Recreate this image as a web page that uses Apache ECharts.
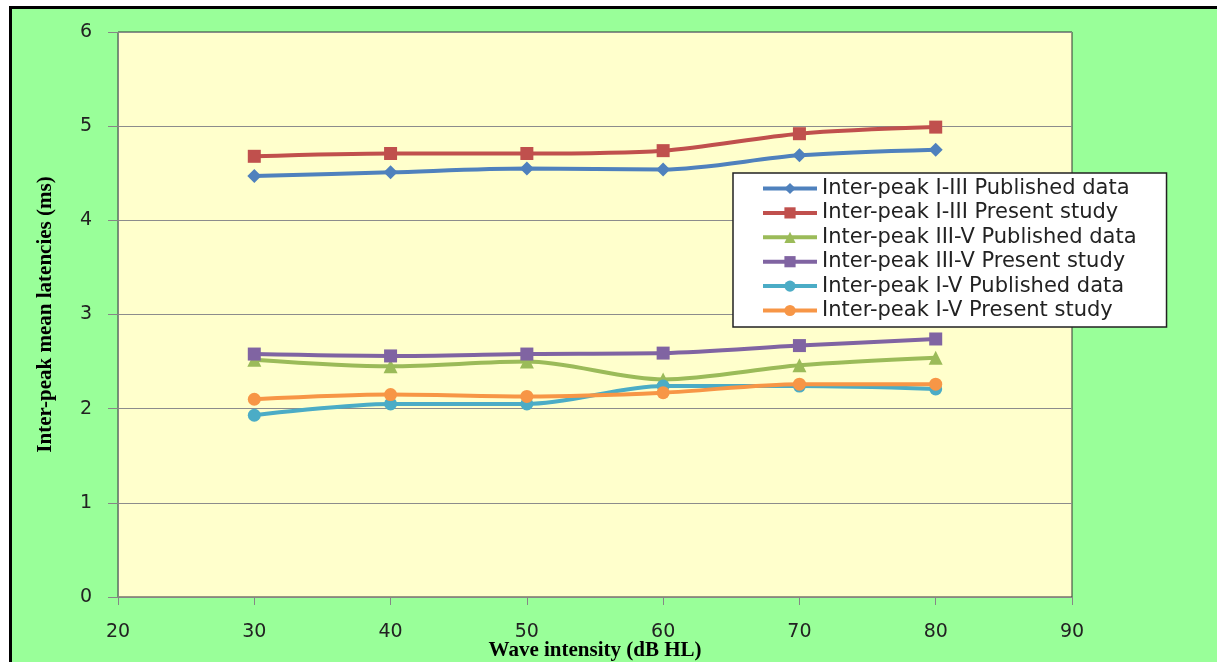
<!DOCTYPE html>
<html>
<head>
<meta charset="utf-8">
<script src="https://cdn.jsdelivr.net/npm/echarts@6/dist/echarts.min.js"></script>
<style>
html,body{margin:0;padding:0;background:#fff;}
#bg{position:absolute;left:9px;top:6px;width:1300px;height:700px;background:#99FF99;border-left:3px solid #000;border-top:3px solid #000;}
#chart{position:absolute;left:0;top:0;width:1217px;height:662px;}
</style>
</head>
<body>
<div id="bg"></div>
<div id="chart"></div>
<script>
const intensities = [30, 40, 50, 60, 70, 80];
const seriesNames = [
  'Inter-peak I-III Published data',
  'Inter-peak I-III Present study',
  'Inter-peak III-V Published data',
  'Inter-peak III-V Present study',
  'Inter-peak I-V Published data',
  'Inter-peak I-V Present study'
];
const ipI_III_published = [4.47, 4.51, 4.55, 4.54, 4.69, 4.75];
const ipI_III_present   = [4.68, 4.71, 4.71, 4.74, 4.92, 4.99];
const ipIII_V_published = [2.52, 2.45, 2.50, 2.31, 2.46, 2.54];
const ipIII_V_present   = [2.58, 2.56, 2.58, 2.59, 2.67, 2.74];
const ipI_V_published   = [1.93, 2.05, 2.05, 2.24, 2.24, 2.21];
const ipI_V_present     = [2.10, 2.15, 2.13, 2.17, 2.26, 2.26];
const yTicks = [0, 1, 2, 3, 4, 5, 6];
const xTicks = [20, 30, 40, 50, 60, 70, 80, 90];

const allValues = [ipI_III_published, ipI_III_present, ipIII_V_published, ipIII_V_present, ipI_V_published, ipI_V_present];
const colors = ['#4F81BD', '#C0504D', '#9BBB59', '#8064A2', '#4BACC6', '#F79646'];
const symbols = ['diamond', 'rect', 'triangle', 'rect', 'circle', 'circle'];
const sizes = [14, 13, 14, 13, 13, 13];

const chart = echarts.init(document.getElementById('chart'));
chart.setOption({
  backgroundColor: 'transparent',
  animation: false,
  grid: {
    left: 118, right: 145, top: 32, bottom: 65,
    outerBoundsMode: 'none', containLabel: false,
    show: true, backgroundColor: '#FFFFCC', borderColor: '#333', borderWidth: 1
  },
  legend: {
    orient: 'vertical',
    left: 733, top: 173,
    padding: [5, 30, 6, 28],
    itemWidth: 54, itemHeight: 14, itemGap: 3.4,
    backgroundColor: '#fff', borderColor: '#222', borderWidth: 1.5,
    textStyle: { fontFamily: 'DejaVu Sans', fontSize: 21, lineHeight: 20, color: '#222' },
    lineStyle: { width: 4 },
    z: 20,
    data: seriesNames
  },
  xAxis: {
    type: 'value', min: xTicks[0], max: xTicks[xTicks.length - 1], interval: 10,
    name: 'Wave intensity (dB HL)', nameLocation: 'middle', nameGap: 43,
    nameMoveOverlap: false,
    nameTextStyle: { fontFamily: 'Liberation Serif', fontWeight: 'bold', fontSize: 21, color: '#000' },
    axisLine: { lineStyle: { color: '#868686', width: 1 } },
    axisTick: { show: true, length: 8, lineStyle: { color: '#868686' } },
    axisLabel: { margin: 26, fontFamily: 'DejaVu Sans', fontSize: 19, color: '#222' },
    splitLine: { show: false }
  },
  yAxis: {
    type: 'value', min: yTicks[0], max: yTicks[yTicks.length - 1], interval: 1,
    name: 'Inter-peak mean latencies (ms)', nameLocation: 'middle', nameGap: 62,
    nameTextStyle: { fontFamily: 'Liberation Serif', fontWeight: 'bold', fontSize: 21, color: '#000' },
    axisLine: { show: true, lineStyle: { color: '#868686', width: 1 } },
    axisTick: { show: true, length: 10, lineStyle: { color: '#868686' } },
    axisLabel: { margin: 26, fontFamily: 'DejaVu Sans', fontSize: 19, color: '#222' },
    splitLine: { show: true, lineStyle: { color: '#8C8C8C', width: 1 } }
  },
  series: seriesNames.map((name, i) => ({
    name: name,
    type: 'line',
    smooth: 0.3,
    data: intensities.map((x, j) => [x, allValues[i][j]]),
    symbol: symbols[i],
    symbolSize: sizes[i],
    showAllSymbol: true,
    lineStyle: { color: colors[i], width: 4 },
    itemStyle: { color: colors[i], borderWidth: 0 },
    z: 2 + i
  }))
});
</script>
</body>
</html>
